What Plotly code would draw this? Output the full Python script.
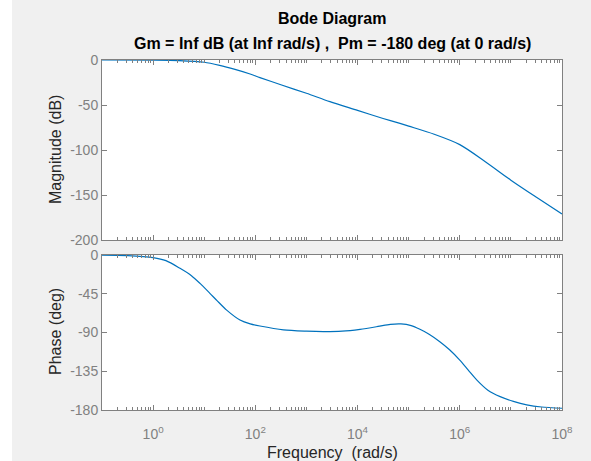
import plotly.graph_objects as go

# Magnitude readings (frequency in rad/s, dB)
mag_w = [0.1, 1, 3.16, 10, 20, 40, 79, 123, 316, 1000, 2880, 10000, 31600, 67600, 100000,
         316000, 1000000, 3160000, 10000000, 31600000, 100000000]
mag_db = [0, -0.1, -0.6, -2.5, -6, -10.5, -15.6, -19.6, -27.5, -37, -46.3, -56, -65, -70.5, -73.5,
          -82.5, -94, -113, -133.5, -152.5, -171]

# Phase readings (frequency in rad/s, deg)
ph_w = [0.1, 0.316, 1, 1.78, 3.36, 5.62, 8.28, 12.9, 17.8, 27.5, 50.1, 79.4, 123, 355, 1000,
        2140, 5010, 11200, 25100, 43700, 70800, 112000, 166000, 251000, 407000, 631000,
        1000000, 1480000, 2140000, 3550000, 6170000, 11200000, 20400000, 39800000, 100000000]
ph_deg = [-0.3, -0.8, -3, -6.5, -15.5, -24, -33, -44.5, -53, -64, -75.5, -80, -82.5, -87, -88.5,
          -89, -88.5, -86.3, -83, -80.5, -80, -82, -86.3, -92, -100.7, -110,
          -122, -134, -145, -157, -164.5, -170, -174, -176.5, -178]

major_ticks = [1, 100, 10**4, 10**6, 10**8]
major_text = ["10<sup>0</sup>", "10<sup>2</sup>", "10<sup>4</sup>", "10<sup>6</sup>", "10<sup>8</sup>"]
minor_ticks = [k * 10.0**d for d in range(-1, 8) for k in range(1, 10)
               if k * 10.0**d not in major_ticks]
mag_ticks = [0, -50, -100, -150, -200]
ph_ticks = [0, -45, -90, -135, -180]

line_col = "#0072BD"
axis_col = "#808080"
font = "Liberation Sans, Arial, sans-serif"

fig = go.Figure()
fig.add_trace(go.Scatter(x=mag_w, y=mag_db, mode="lines", xaxis="x", yaxis="y",
                         line=dict(color=line_col, width=1.2, shape="spline", smoothing=0.8)))
fig.add_trace(go.Scatter(x=ph_w, y=ph_deg, mode="lines", xaxis="x2", yaxis="y2",
                         line=dict(color=line_col, width=1.2, shape="spline", smoothing=0.8)))

xcommon = dict(type="log", range=[-1, 8], showgrid=False, zeroline=False,
               showline=True, linecolor=axis_col, linewidth=1, mirror="ticks",
               ticks="inside", ticklen=5, tickcolor=axis_col,
               tickmode="array", tickvals=major_ticks,
               minor=dict(tickvals=minor_ticks, ticks="inside", ticklen=3, tickcolor=axis_col),
               tickfont=dict(family=font, size=14, color="#808080"))
ycommon = dict(showgrid=False, zeroline=False, showline=True, linecolor=axis_col, linewidth=1,
               mirror="ticks", ticks="inside", ticklen=5, tickcolor=axis_col,
               tickfont=dict(family=font, size=14, color="#808080"))

fig.update_layout(
    width=591, height=461,
    margin=dict(l=102, r=29, t=60, b=51),
    paper_bgcolor="#f0f0f0", plot_bgcolor="white",
    showlegend=False,
    xaxis=dict(xcommon, anchor="y", matches="x2", showticklabels=False),
    xaxis2=dict(xcommon, anchor="y2", ticktext=major_text, ticklabelstandoff=11),
    yaxis=dict(ycommon, domain=[0.4857, 1], range=[-200, 0], tickmode="array",
               tickvals=mag_ticks, ticktext=[str(v) for v in mag_ticks]),
    yaxis2=dict(ycommon, domain=[0, 0.4429], range=[-180, 0], tickmode="array",
                tickvals=ph_ticks, ticktext=[str(v) for v in ph_ticks]),
    shapes=[dict(type="rect", xref="paper", yref="paper", x0=-0.23, x1=-0.1957, y0=-0.2, y1=1.2,
                 fillcolor="white", line=dict(width=0), layer="below")],
    annotations=[
        dict(text="<b>Bode Diagram</b>", xref="paper", yref="paper", x=0.5, y=1.171 - 18 / 350,
             showarrow=False, yanchor="middle", font=dict(family=font, size=16, color="#000000")),
        dict(text="<b>Gm = Inf dB (at Inf rad/s) ,  Pm = -180 deg (at 0 rad/s)</b>", xref="paper",
             yref="paper", x=0.5, y=1.171 - 43 / 350, showarrow=False, yanchor="middle",
             font=dict(family=font, size=16, color="#000000")),
        dict(text="Magnitude (dB)", xref="paper", yref="paper", x=(55 - 102) / 460, y=(410 - 150) / 350,
             showarrow=False, textangle=-90, xanchor="center", yanchor="middle",
             font=dict(family=font, size=16, color="#262626")),
        dict(text="Phase (deg)", xref="paper", yref="paper", x=(55 - 102) / 460, y=(410 - 332) / 350,
             showarrow=False, textangle=-90, xanchor="center", yanchor="middle",
             font=dict(family=font, size=16, color="#262626")),
        dict(text="Frequency  (rad/s)", xref="paper", yref="paper", x=0.5, y=(410 - 452) / 350,
             showarrow=False, xanchor="center", yanchor="middle",
             font=dict(family=font, size=16, color="#262626")),
    ],
)

fig.write_html("out.html", config={"displayModeBar": False},
               post_script="document.body.style.margin='0';")
